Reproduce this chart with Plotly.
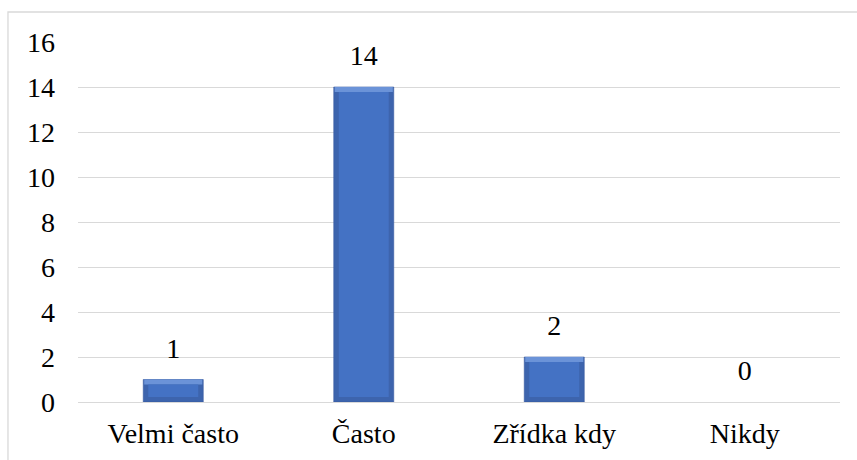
import plotly.graph_objects as go

# Survey answers and their counts
categories = ["Velmi často", "Často", "Zřídka kdy", "Nikdy"]
counts = [1, 14, 2, 0]
y_ticks = [0, 2, 4, 6, 8, 10, 12, 14, 16]

FONT = "Liberation Serif"
FS = 28
BAR_W = 0.315      # bar width in category units
FACE_W = 0.262     # width of the flat front face
BEVEL = 0.22       # bevel depth in value units

face = "#4472C4"
side = "#3D64AD"
top = "#6B93D8"

nz_cats = [c for c, v in zip(categories, counts) if v > 0]
nz_vals = [v for v in counts if v > 0]

fig = go.Figure()

# darker edge (sides and bottom of the bevel)
fig.add_trace(go.Bar(
    x=nz_cats, y=nz_vals, width=BAR_W,
    marker=dict(color=side, line=dict(width=0.6, color="#3558A0")),
    hoverinfo="skip", showlegend=False,
))
# lighter top bevel
fig.add_trace(go.Bar(
    x=nz_cats, y=[BEVEL] * len(nz_vals), base=[v - BEVEL for v in nz_vals],
    width=BAR_W - 0.01,
    marker=dict(color=top, line=dict(width=0)),
    hoverinfo="skip", showlegend=False,
))
# flat front face
fig.add_trace(go.Bar(
    x=nz_cats, y=[v - 2 * BEVEL for v in nz_vals], base=[BEVEL] * len(nz_vals),
    width=FACE_W,
    marker=dict(color=face, line=dict(width=0)),
    hoverinfo="skip", showlegend=False,
))
# value labels above each bar (invisible marker keeps them clear of the bar top)
fig.add_trace(go.Scatter(
    x=categories, y=counts, mode="markers+text",
    marker=dict(size=22, opacity=0),
    text=[str(v) for v in counts], textposition="top center",
    textfont=dict(family=FONT, size=FS, color="#000000"),
    hoverinfo="skip", showlegend=False, cliponaxis=False,
))

fig.update_layout(
    width=857, height=460,
    margin=dict(l=78, r=17, t=42, b=58),
    paper_bgcolor="white", plot_bgcolor="white",
    barmode="overlay",
    font=dict(family=FONT, size=FS, color="#000000"),
    xaxis=dict(
        type="category", categoryorder="array", categoryarray=categories,
        range=[-0.5, 3.5],
        showgrid=False, showline=False, ticks="", zeroline=False,
        ticklabelstandoff=12,
        tickfont=dict(family=FONT, size=FS, color="#000000"),
    ),
    yaxis=dict(
        range=[0, 16], tickvals=y_ticks,
        showgrid=True, gridcolor="#D9D9D9", gridwidth=1.3,
        zeroline=True, zerolinecolor="#D9D9D9", zerolinewidth=1.3,
        showline=False, ticks="", ticklabelstandoff=22,
        tickfont=dict(family=FONT, size=FS, color="#000000"),
    ),
    shapes=[dict(
        type="rect", xref="paper", yref="paper",
        x0=-0.0919, x1=1.03, y0=-0.2, y1=1.0833,
        line=dict(color="#D9D9D9", width=1.3), fillcolor="rgba(0,0,0,0)",
        layer="below",
    )],
)

fig.write_html("out.html")
